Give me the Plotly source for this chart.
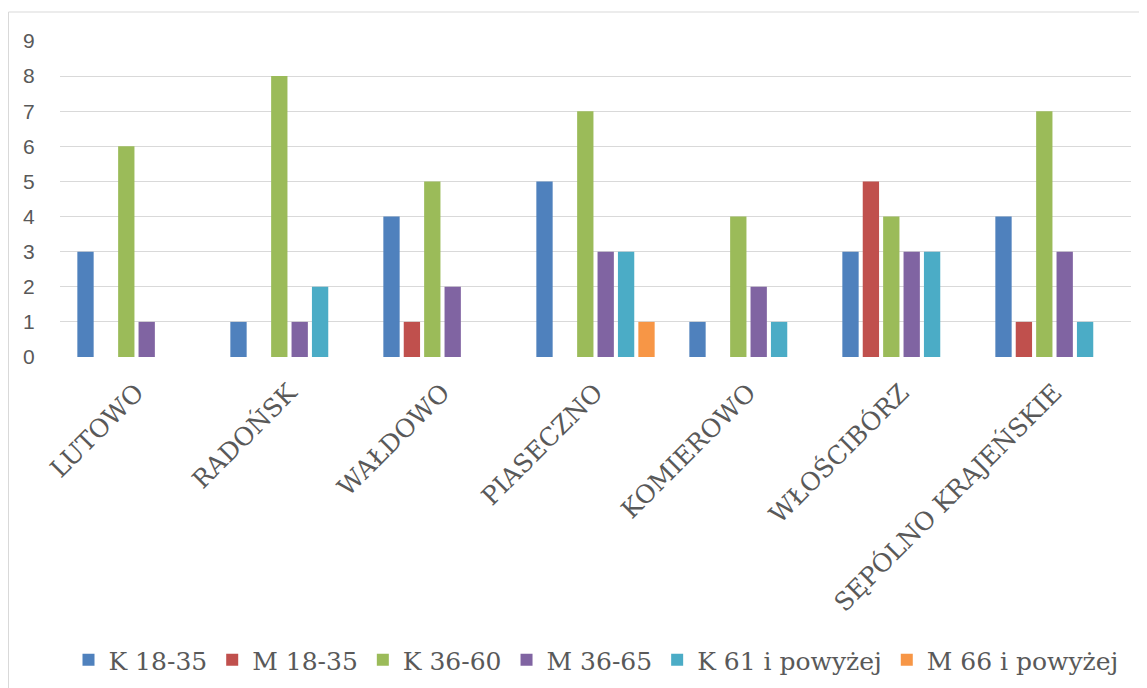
import plotly.graph_objects as go

villages = ["LUTOWO", "RADOŃSK", "WAŁDOWO", "PIASECZNO", "KOMIEROWO", "WŁOŚCIBÓRZ", "SĘPÓLNO KRAJEŃSKIE"]

k_18_35 = [3, 1, 4, 5, 1, 3, 4]
m_18_35 = [0, 0, 1, 0, 0, 5, 1]
k_36_60 = [6, 8, 5, 7, 4, 4, 7]
m_36_65 = [1, 1, 2, 3, 2, 3, 3]
k_61_plus = [0, 2, 0, 3, 1, 3, 1]
m_66_plus = [0, 0, 0, 1, 0, 0, 0]

series = [
    ("K 18-35", k_18_35, "#4F81BD"),
    ("M 18-35", m_18_35, "#C0504D"),
    ("K 36-60", k_36_60, "#9BBB59"),
    ("M 36-65", m_36_65, "#8064A2"),
    ("K 61 i powyżej", k_61_plus, "#4BACC6"),
    ("M 66 i powyżej", m_66_plus, "#F79646"),
]

fig = go.Figure()
for name, vals, color in series:
    fig.add_trace(go.Bar(name=name, x=villages, y=vals, marker_color=color, marker_line_width=0))

# page has an 8px body margin, so work in page coords minus 8
off = 8
W, H = 1147 - off, 688 - off
L, R, T = 60 - off, 16, 41 - off
B = H - (357 - off)
pw, ph = W - L - R, H - T - B

def py(y):  # page pixel y -> paper y
    return ((357 - off) - (y - off)) / ph

def px(x):
    return ((x - off) - L) / pw

fig.update_layout(
    barmode="group", bargap=0.2, bargroupgap=0.2,
    width=W, height=H, autosize=False,
    margin=dict(l=L, r=R, t=T, b=B, autoexpand=False),
    paper_bgcolor="white", plot_bgcolor="white",
    font=dict(family="DejaVu Serif", color="#595959"),
    legend=dict(orientation="h", x=px(596), xanchor="center", y=py(660), yanchor="middle",
                font=dict(size=25, family="DejaVu Serif", color="#595959"), itemwidth=30),
    showlegend=True,
)
fig.update_yaxes(range=[0, 9], dtick=1, showgrid=True, gridcolor="#D9D9D9", gridwidth=1,
                 zeroline=False, showline=False, ticks="outside", ticklen=20, tickcolor="rgba(0,0,0,0)",
                 tickfont=dict(family="Liberation Sans", size=21, color="#595959"))
fig.update_xaxes(tickangle=-45, showline=False, ticks="outside", ticklen=10, tickcolor="rgba(0,0,0,0)",
                 tickfont=dict(family="DejaVu Serif", size=25, color="#595959"))

# chart border
fig.add_shape(type="rect", xref="paper", yref="paper",
              x0=px(8.5), x1=px(1160), y0=py(700), y1=py(12),
              line=dict(color="#D9D9D9", width=1), fillcolor="rgba(0,0,0,0)", layer="below")

fig.write_html("out.html")
